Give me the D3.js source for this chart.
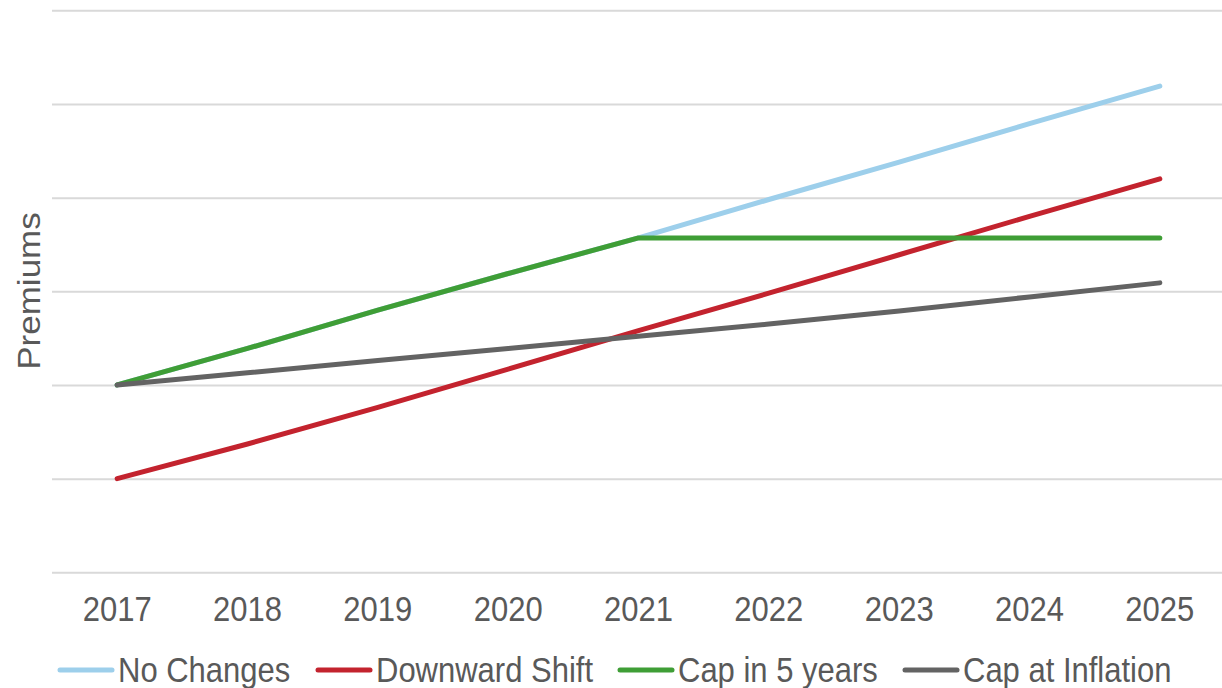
<!DOCTYPE html>
<html>
<head>
<meta charset="utf-8">
<script src="https://cdn.jsdelivr.net/npm/d3@7"></script>
<style>
  html, body { margin: 0; padding: 0; background: #fff; }
  svg { display: block; font-family: Arial, "Liberation Sans", sans-serif; }
</style>
</head>
<body>
<svg id="chart" width="1222" height="688"></svg>
<script>
// Projected premiums by scenario (relative units)
const years = ["2017", "2018", "2019", "2020", "2021", "2022", "2023", "2024", "2025"];
const noChanges     = [2.00, 2.39, 2.80, 3.19, 3.57, 3.98, 4.38, 4.79, 5.19];
const downwardShift = [1.00, 1.37, 1.76, 2.17, 2.58, 2.98, 3.39, 3.80, 4.20];
const capIn5Years   = [2.00, 2.39, 2.80, 3.19, 3.57, 3.57, 3.57, 3.57, 3.57];
const capAtInflation= [2.00, 2.13, 2.26, 2.39, 2.52, 2.65, 2.79, 2.94, 3.09];
const yTicks = [0, 1, 2, 3, 4, 5, 6];

const seriesNames  = ["No Changes", "Downward Shift", "Cap in 5 years", "Cap at Inflation"];
const seriesValues = [noChanges, downwardShift, capIn5Years, capAtInflation];
const seriesColors = ["#9dcfeb", "#c3232e", "#3f9e36", "#636363"];

const series = seriesNames.map((name, i) => ({ name, values: seriesValues[i], color: seriesColors[i] }));

const svg = d3.select("#chart");
const textColor = "#595959";
const stretch = 1.13; // text is drawn slightly tall

const x = d3.scaleBand().domain(years).range([52, 1225]);
const y = d3.scaleLinear().domain([0, 6]).range([572.3, 10.3]);
const cx = d => x(d) + x.bandwidth() / 2;

// Horizontal gridlines
const yAxis = d3.axisLeft(y).tickValues(yTicks).tickSize(-(1222 - 52)).tickFormat("");
const gy = svg.append("g").attr("transform", "translate(52,0)").call(yAxis);
gy.select(".domain").remove();
gy.selectAll(".tick line").attr("stroke", "#d9d9d9").attr("stroke-width", 2);

// Category axis labels
const xAxis = d3.axisBottom(x).tickSize(0).tickPadding(0);
const gx = svg.append("g").attr("transform", "translate(0,621)").call(xAxis);
gx.select(".domain").remove();
gx.selectAll(".tick text")
  .attr("y", 0).attr("dy", 0)
  .attr("transform", `scale(1,${stretch})`)
  .attr("fill", textColor)
  .style("font-size", "31px");

// Series lines
const line = d3.line()
  .x((d, i) => cx(years[i]))
  .y(d => y(d));

svg.append("g").selectAll("path")
  .data(series)
  .join("path")
  .attr("d", s => line(s.values))
  .attr("fill", "none")
  .attr("stroke", s => s.color)
  .attr("stroke-width", 5)
  .attr("stroke-linecap", "round")
  .attr("stroke-linejoin", "round");

// Y axis title
svg.append("text")
  .attr("transform", `translate(40,291) rotate(-90) scale(${stretch},1)`)
  .attr("text-anchor", "middle")
  .attr("fill", textColor)
  .style("font-size", "31px")
  .text("Premiums");

// Legend
const legendX = [60, 318, 620, 905];
const legend = svg.append("g").selectAll("g")
  .data(series)
  .join("g")
  .attr("transform", (d, i) => `translate(${legendX[i]},670)`);
legend.append("line")
  .attr("x1", 0).attr("x2", 52)
  .attr("y1", 0).attr("y2", 0)
  .attr("stroke", d => d.color)
  .attr("stroke-width", 5)
  .attr("stroke-linecap", "round");
legend.append("text")
  .attr("transform", `translate(58,12) scale(1,${stretch})`)
  .attr("fill", textColor)
  .style("font-size", "31px")
  .text(d => d.name);
</script>
</body>
</html>
